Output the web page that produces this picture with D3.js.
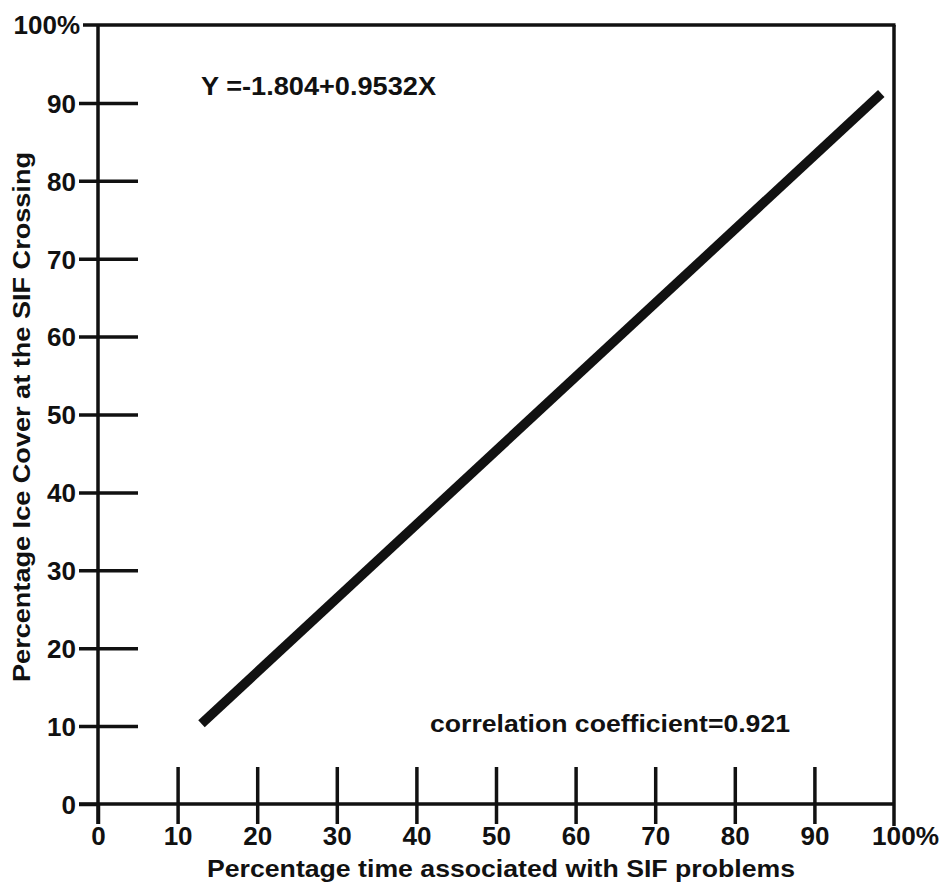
<!DOCTYPE html>
<html>
<head>
<meta charset="utf-8">
<script src="https://cdn.jsdelivr.net/npm/d3@7"></script>
<style>
	body { margin: 0; background: #fff; }
	svg { display: block; }
	text { font-family: 'Liberation Sans', Arial, sans-serif; font-weight: bold; fill: #111; }
</style>
</head>
<body>
<svg id="canvas"></svg>
<script>
// values
const xTicks = [0, 10, 20, 30, 40, 50, 60, 70, 80, 90];
const yTicks = [0, 10, 20, 30, 40, 50, 60, 70, 80, 90];
const xTickLabels = ['0', '10', '20', '30', '40', '50', '60', '70', '80', '90'];
const yTickLabels = ['0', '10', '20', '30', '40', '50', '60', '70', '80', '90'];
const fitLine = [
	{ x: 13.0, y: 10.3 },
	{ x: 98.4, y: 91.2 }
];
const equationText = 'Y =-1.804+0.9532X';
const correlationText = 'correlation coefficient=0.921';
const xTitle = 'Percentage time associated with SIF problems';
const yTitle = 'Percentage Ice Cover at the SIF Crossing';

const width = 940;
const height = 885;

const canvas = d3.select('#canvas').attr('width', width).attr('height', height);

const x = d3.scaleLinear().domain([0, 100]).range([98, 894]);
const y = d3.scaleLinear().domain([0, 100]).range([804, 25]);

const ink = '#111';

// x axis: ticks cross the axis line, longer above than below
const xAxis = canvas
	.append('g')
	.attr('transform', `translate(0, ${y(0)})`)
	.call(d3.axisBottom(x).tickValues(xTicks).tickFormat((d, i) => xTickLabels[i]).tickSizeOuter(0));
xAxis.select('.domain').remove();
xAxis.selectAll('.tick line')
	.attr('y1', (d) => (d === 0 ? 0 : -37))
	.attr('y2', 20)
	.attr('stroke', ink)
	.attr('stroke-width', 3.5);
xAxis.selectAll('.tick text')
	.attr('y', 41)
	.attr('dy', 0)
	.attr('font-size', 26)
	.attr('font-family', null);

// y axis: ticks cross the axis line, longer on the inside
const yAxis = canvas
	.append('g')
	.attr('transform', `translate(${x(0)}, 0)`)
	.call(d3.axisLeft(y).tickValues(yTicks).tickFormat((d, i) => yTickLabels[i]).tickSizeOuter(0));
yAxis.select('.domain').remove();
yAxis.selectAll('.tick line')
	.attr('x1', (d) => (d === 0 ? 0 : 40))
	.attr('x2', -19)
	.attr('stroke', ink)
	.attr('stroke-width', 3.5);
yAxis.selectAll('.tick text')
	.attr('x', -22)
	.attr('dy', '0.36em')
	.attr('font-size', 26)
	.attr('font-family', null);

// frame
const frame = canvas.append('g').attr('stroke', ink).attr('stroke-width', 3.5).attr('fill', 'none');
frame.append('line').attr('x1', x(0) - 15).attr('x2', x(100) + 1.5).attr('y1', y(100)).attr('y2', y(100));
frame.append('line').attr('x1', x(100)).attr('x2', x(100)).attr('y1', y(100)).attr('y2', y(0) + 22);
frame.append('line').attr('x1', x(0) - 19).attr('x2', x(100)).attr('y1', y(0)).attr('y2', y(0));
frame.append('line').attr('x1', x(0)).attr('x2', x(0)).attr('y1', y(100)).attr('y2', y(0) + 20);

// corner labels
canvas.append('text')
	.attr('x', x(0) - 18)
	.attr('y', y(100))
	.attr('dy', '0.36em')
	.attr('text-anchor', 'end')
	.attr('font-size', 26)
	.text('100%');
canvas.append('text')
	.attr('x', x(100) - 22)
	.attr('y', y(0) + 41)
	.attr('font-size', 26)
	.attr('textLength', 67)
	.attr('lengthAdjust', 'spacingAndGlyphs')
	.text('100%');

// regression line
const line = d3.line().x((d) => x(d.x)).y((d) => y(d.y));
canvas.append('path')
	.datum(fitLine)
	.attr('d', line)
	.attr('fill', 'none')
	.attr('stroke', ink)
	.attr('stroke-width', 9.5)
	.attr('stroke-linecap', 'butt');

// annotations
canvas.append('text')
	.attr('x', 201)
	.attr('y', 95)
	.attr('font-size', 26)
	.attr('textLength', 235)
	.attr('lengthAdjust', 'spacingAndGlyphs')
	.text(equationText);

canvas.append('text')
	.attr('x', 430)
	.attr('y', 732)
	.attr('font-size', 24)
	.attr('textLength', 360)
	.attr('lengthAdjust', 'spacingAndGlyphs')
	.text(correlationText);

// axis titles
canvas.append('text')
	.attr('x', 207)
	.attr('y', 877)
	.attr('font-size', 24)
	.attr('textLength', 588)
	.attr('lengthAdjust', 'spacingAndGlyphs')
	.text(xTitle);

canvas.append('text')
	.attr('transform', 'translate(30, 682) rotate(-90)')
	.attr('x', 0)
	.attr('y', 0)
	.attr('font-size', 24)
	.attr('textLength', 530)
	.attr('lengthAdjust', 'spacingAndGlyphs')
	.text(yTitle);
</script>
</body>
</html>
